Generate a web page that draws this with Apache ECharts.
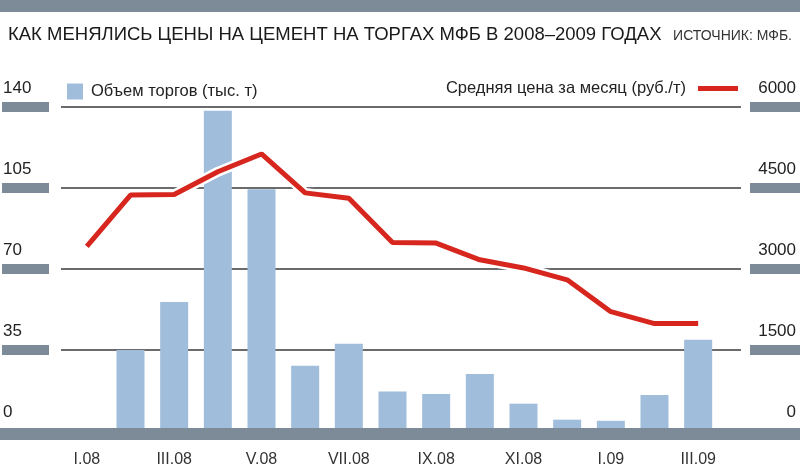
<!DOCTYPE html>
<html><head><meta charset="utf-8">
<script src="https://cdn.jsdelivr.net/npm/echarts@6/dist/echarts.min.js"></script>
<style>html,body{margin:0;padding:0;background:#fff}#c{width:800px;height:468px}</style>
</head><body><div id="c"></div>
<script>
// ---- data ----
const months = ['I.08','II.08','III.08','IV.08','V.08','VI.08','VII.08','VIII.08','IX.08','X.08','XI.08','XII.08','I.09','II.09','III.09'];
const volume = [null, 35, 55.7, 138.4, 104.5, 28.2, 37.7, 17.1, 16.0, 24.6, 11.8, 4.9, 4.4, 15.6, 39.4];
const price  = [3420, 4370, 4380, 4800, 5130, 4410, 4310, 3490, 3480, 3170, 3020, 2800, 2210, 1990, 1990];
const volTicks = [0, 35, 70, 105, 140];
const priceTicks = [0, 1500, 3000, 4500, 6000];
const volName = 'Объем торгов (тыс. т)';
const priceName = 'Средняя цена за месяц (руб./т)';
const titleText = 'КАК МЕНЯЛИСЬ ЦЕНЫ НА ЦЕМЕНТ НА ТОРГАХ МФБ В 2008–2009 ГОДАХ';
const sourceText = 'ИСТОЧНИК: МФБ.';

// ---- style ----
const SANS = "'Liberation Sans',Arial,sans-serif";
const GRAY = '#7d8b98';
const BAR = '#a0bddb';
const RED = '#d7261e';

const chart = echarts.init(document.getElementById('c'), null, {renderer: 'canvas'});
const gridTop = 107, gridBottom = 37;
const plain = v => String(v);

chart.setOption({
  animation: false,
  backgroundColor: '#ffffff',
  graphic: [{type: 'rect', left: 0, top: 0, shape: {width: 800, height: 12}, style: {fill: GRAY}}],
  title: [
    {text: titleText, left: 3, top: 20, textStyle: {fontFamily: SANS, fontSize: 18.5, fontWeight: 'normal', color: '#1a1a1a'}},
    {text: sourceText, right: 3, top: 24, textStyle: {fontFamily: SANS, fontSize: 14, fontWeight: 'normal', color: '#333'}}
  ],
  legend: [
    {data: [volName], left: 62, top: 78, itemWidth: 16, itemHeight: 16, icon: 'rect',
     textStyle: {fontFamily: SANS, fontSize: 16.5, color: '#222', padding: [0, 0, 0, 3]}},
    {data: [priceName], right: 57, top: 75, align: 'right', itemWidth: 40, itemHeight: 5, icon: 'rect',
     textStyle: {fontFamily: SANS, fontSize: 16.5, color: '#222', padding: [0, 7, 0, 0]}}
  ],
  grid: [
    {left: 65, right: 80, top: gridTop, bottom: gridBottom},
    {left: 61, right: 59, top: gridTop, bottom: gridBottom},
    {left: 0, right: 0, top: gridTop, bottom: 34}
  ],
  xAxis: [
    {gridIndex: 0, type: 'category', data: months, boundaryGap: true,
     axisLine: {show: false}, axisTick: {show: false}, splitLine: {show: false},
     axisLabel: {interval: 1, margin: 21, fontFamily: SANS, fontSize: 16, color: '#333'}},
    {gridIndex: 1, type: 'value', min: 0, max: 1, show: false, splitLine: {show: false}},
    {gridIndex: 2, type: 'value', min: 0, max: 1, z: 10,
     axisLine: {show: true, lineStyle: {color: GRAY, width: 12}},
     axisTick: {show: false}, axisLabel: {show: false}, splitLine: {show: false}}
  ],
  yAxis: [
    {gridIndex: 0, type: 'value', position: 'left', min: volTicks[0], max: volTicks[volTicks.length - 1], interval: 35, offset: 16,
     axisLine: {show: false}, splitLine: {show: false},
     axisTick: {show: true, length: 47, customValues: volTicks.slice(1), lineStyle: {color: GRAY, width: 10}},
     axisLabel: {customValues: volTicks, formatter: plain, margin: 46, align: 'left', verticalAlign: 'bottom', lineHeight: 20, padding: [0, 0, 9, 0],
                 fontFamily: SANS, fontSize: 17, color: '#222'}},
    {gridIndex: 0, type: 'value', position: 'right', min: priceTicks[0], max: priceTicks[priceTicks.length - 1], interval: 1500, offset: 30,
     axisLine: {show: false}, splitLine: {show: false},
     axisTick: {show: true, length: 50, customValues: priceTicks.slice(1), lineStyle: {color: GRAY, width: 10}},
     axisLabel: {customValues: priceTicks, formatter: plain, margin: 46, align: 'right', verticalAlign: 'bottom', lineHeight: 20, padding: [0, 0, 9, 0],
                 fontFamily: SANS, fontSize: 17, color: '#222'}},
    {gridIndex: 1, type: 'value', min: 0, max: 140, interval: 35,
     axisLine: {show: false}, axisTick: {show: false}, axisLabel: {show: false},
     splitLine: {show: true, lineStyle: {color: '#3a3a3a', width: 1.5}}},
    {gridIndex: 2, type: 'value', min: 0, max: 1, show: false, splitLine: {show: false}}
  ],
  series: [
    {name: volName, type: 'bar', xAxisIndex: 0, yAxisIndex: 0, data: volume, barWidth: 28,
     itemStyle: {color: BAR}, z: 2},
    {name: 'halo', type: 'line', xAxisIndex: 0, yAxisIndex: 1, data: price, symbol: 'none', silent: true,
     lineStyle: {color: '#ffffff', width: 10}, itemStyle: {color: '#ffffff'}, z: 3},
    {name: priceName, type: 'line', xAxisIndex: 0, yAxisIndex: 1, data: price, symbol: 'none',
     lineStyle: {color: RED, width: 5}, itemStyle: {color: RED}, z: 4}
  ]
});
</script></body></html>
